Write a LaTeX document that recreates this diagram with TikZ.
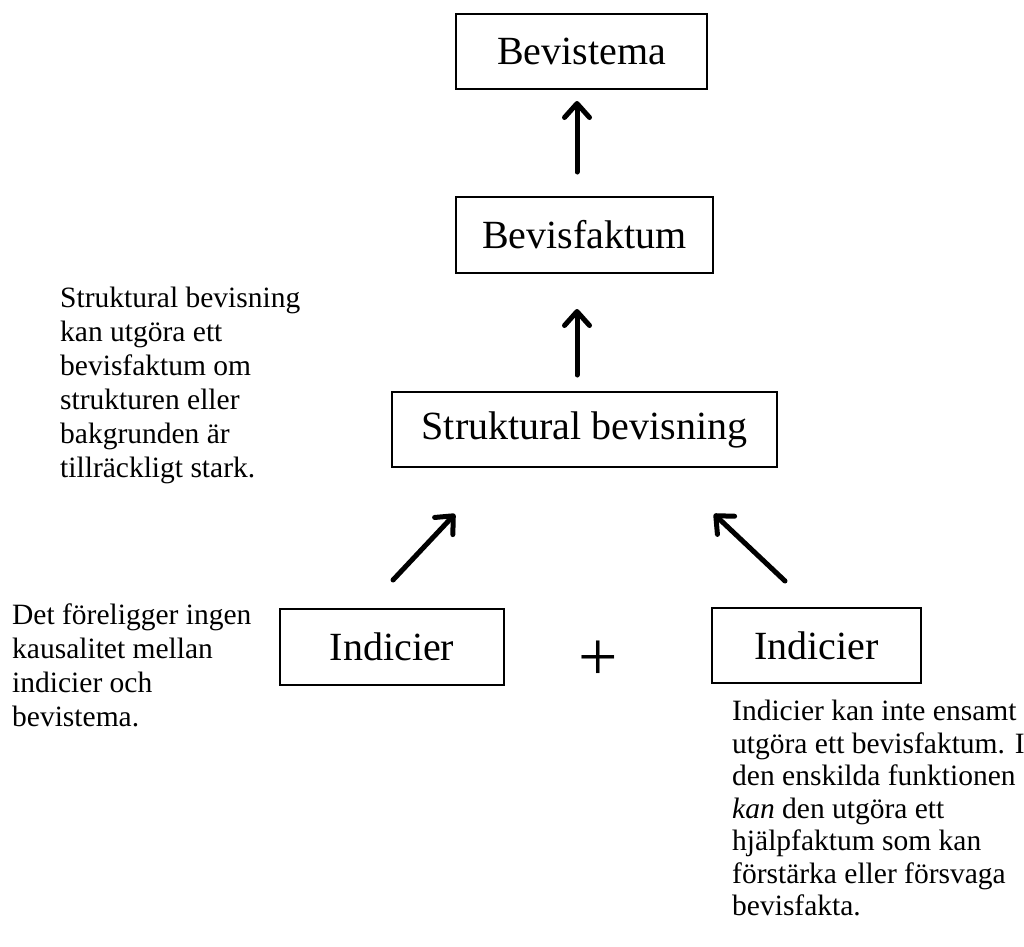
\documentclass[tikz,border=0pt]{standalone}
\usepackage{fontspec}
\setmainfont{Liberation Serif}
\usetikzlibrary{arrows.meta}
\begin{document}
\begin{tikzpicture}[x=1pt,y=-1pt,
  box/.style={draw,line width=1.6pt,inner sep=0pt,font=\fontsize{40}{44}\selectfont},
  arr/.style={line width=5pt,line cap=round,-{Straight Barb[length=14pt,width=25pt,line width=5pt,round]}},
  note/.style={anchor=north west,inner sep=0pt,align=left,font=\fontsize{29.5}{34}\selectfont}]
\useasboundingbox (0,0) rectangle (1024,946);
\node[box,minimum width=251pt,minimum height=75pt] (bt) at (581.5,51.5) {Bevistema};
\node[box,minimum width=257pt,minimum height=76pt] (bf) at (584.5,235) {Bevisfaktum};
\node[box,minimum width=385pt,minimum height=75pt] (sb) at (584.5,429.5) {Struktural bevisning};
\node[box,minimum width=224pt,minimum height=76pt] (il) at (392,647) {Indicier};
\node[box,minimum width=209pt,minimum height=75pt] (ir) at (816.5,645.5) {Indicier};
\node[font=\fontsize{70}{72}\selectfont,inner sep=0pt] (plus) at (598,661) {+};
\coordinate (a1s) at (577,172); \coordinate (a1e) at (577,101);
\coordinate (a2s) at (577,375); \coordinate (a2e) at (577,309);
\coordinate (a3s) at (393,580); \coordinate (a3e) at (455,514);
\coordinate (a4s) at (785,581); \coordinate (a4e) at (714,514);
\draw[arr] (a1s) -- (a1e);
\draw[arr] (a2s) -- (a2e);
\draw[arr] (a3s) -- (a3e);
\draw[arr] (a4s) -- (a4e);
\node[note] (t1) at (60,287) {Struktural bevisning\\kan utgöra ett\\bevisfaktum om\\strukturen eller\\bakgrunden är\\tillräckligt stark.};
\node[note] (t2) at (12,604) {Det föreligger ingen\\kausalitet mellan\\indicier och\\bevistema.};
\node[note,font=\fontsize{29.5}{32.5}\selectfont] (t3) at (732,700) {Indicier kan inte ensamt\\utgöra ett bevisfaktum. I\\den enskilda funktionen\\\textit{kan} den utgöra ett\\hjälpfaktum som kan\\förstärka eller försvaga\\bevisfakta.};
\end{tikzpicture}
\end{document}
